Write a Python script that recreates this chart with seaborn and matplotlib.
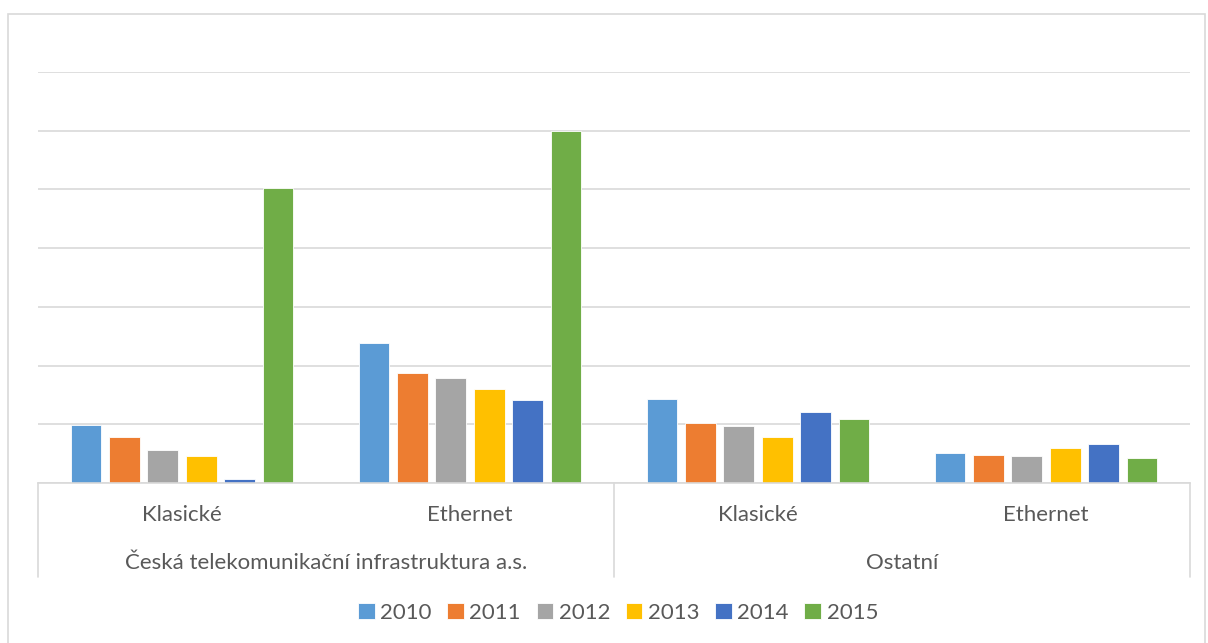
import matplotlib
matplotlib.use('Agg')
import matplotlib.pyplot as plt
from matplotlib.patches import Rectangle
import pandas as pd
import seaborn as sns

# Data (units = gridline steps, no axis labels in the original)
years = ['2010', '2011', '2012', '2013', '2014', '2015']
inner_labels = ['Klasické', 'Ethernet', 'Klasické', 'Ethernet']
outer_labels = ['Česká telekomunikační infrastruktura a.s.', 'Ostatní']
v2010 = [0.99, 2.38, 1.43, 0.51]
v2011 = [0.78, 1.87, 1.03, 0.48]
v2012 = [0.57, 1.78, 0.97, 0.46]
v2013 = [0.46, 1.60, 0.79, 0.59]
v2014 = [0.06, 1.41, 1.21, 0.66]
v2015 = [5.03, 5.99, 1.09, 0.42]
colors = ['#5B9BD5', '#ED7D31', '#A5A5A5', '#FFC000', '#4472C4', '#70AD47']

series = [v2010, v2011, v2012, v2013, v2014, v2015]
rows = []
for year, vals in zip(years, series):
    for i, v in enumerate(vals):
        rows.append({'group': i, 'year': year, 'value': v})
df = pd.DataFrame(rows)

sns.set_style('white')
plt.rcParams['font.family'] = ['Lato', 'DejaVu Sans']
text_color = '#595959'
grid_color = '#D9D9D9'
fs = 16

W, H = 1208, 643
fig = plt.figure(figsize=(W / 100, H / 100), dpi=100)
ax = fig.add_axes([38 / W, 1 - 483 / H, (1190 - 38) / W, (483 - 72) / H])

sns.barplot(data=df, x='group', y='value', hue='year', hue_order=years,
            palette=colors, width=0.8, gap=0.2, saturation=1,
            edgecolor='white', linewidth=0.6, legend=True, ax=ax)

ax.set_ylim(0, 7)
ax.set_xlim(-0.5, 3.5)
ax.set_yticks(range(0, 8))
ax.yaxis.grid(True, color=grid_color, linewidth=1.2)
ax.set_axisbelow(True)
ax.set_yticklabels([])
ax.set_xticks([])
ax.set_xlabel('')
ax.set_ylabel('')
ax.tick_params(left=False, bottom=False)
for s in ['top', 'left', 'right']:
    ax.spines[s].set_visible(False)
ax.spines['bottom'].set_color(grid_color)
ax.spines['bottom'].set_linewidth(1.2)

# multi-level category axis
trans = ax.get_xaxis_transform()
sep_bottom = -(577 - 483) / (483 - 72)
for xs in [-0.5, 1.5, 3.5]:
    ax.plot([xs, xs], [0, sep_bottom], transform=trans, color=grid_color,
            linewidth=1.2, clip_on=False)
inner_y = -(515 - 483) / (483 - 72)
outer_y = -(563 - 483) / (483 - 72)
for i, lab in enumerate(inner_labels):
    ax.text(i, inner_y, lab, transform=trans, ha='center', va='center',
            fontsize=fs, color=text_color)
for i, lab in enumerate(outer_labels):
    ax.text(0.5 + 2 * i, outer_y, lab, transform=trans, ha='center', va='center',
            fontsize=fs, color=text_color)

# legend below
handles, labels = ax.get_legend_handles_labels()
ax.get_legend().remove()
fig.legend(handles, labels, loc='center', bbox_to_anchor=(618 / W, 1 - 613 / H),
           ncol=6, frameon=False, fontsize=fs, labelcolor=text_color,
           handlelength=0.75, handleheight=0.75, handletextpad=0.25,
           columnspacing=0.7)

# chart border
fig.patches.append(Rectangle((8 / W, -0.01), (1205 - 8) / W, 1 - 14 / H + 0.01,
                             transform=fig.transFigure, fill=False,
                             edgecolor=grid_color, linewidth=1.2))

fig.savefig('out.png', dpi=100)
